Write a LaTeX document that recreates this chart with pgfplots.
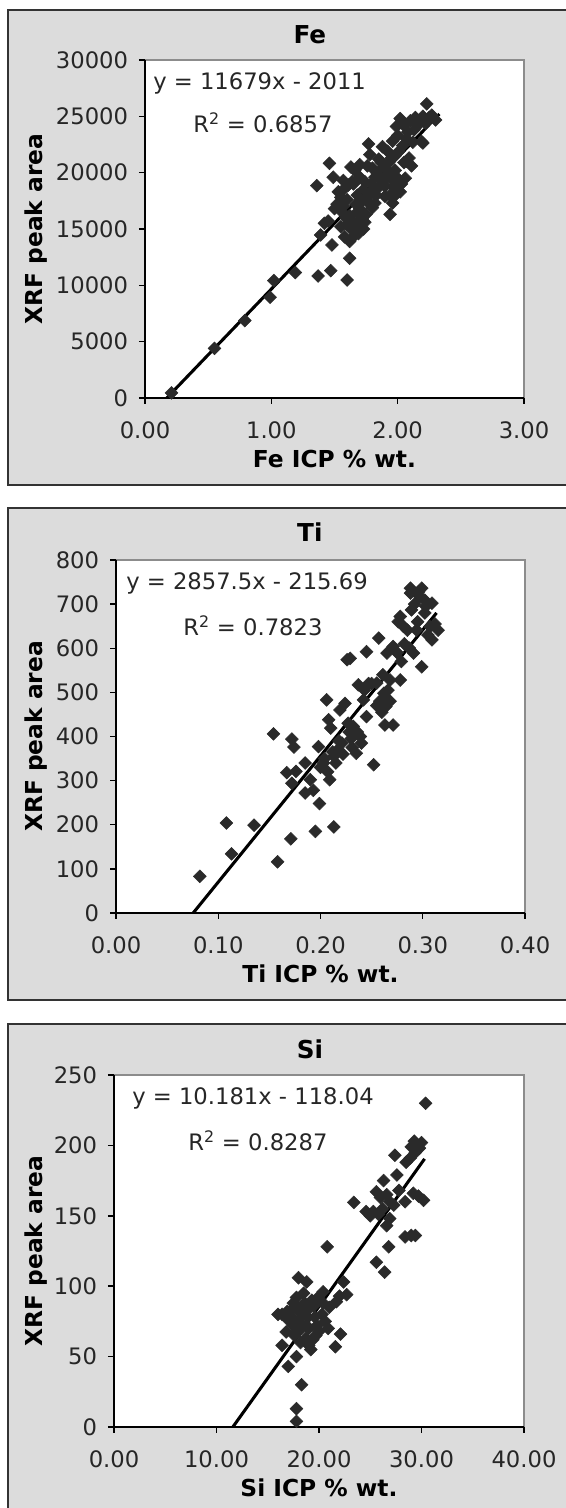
\documentclass[border=0pt]{standalone}
\usepackage{pgfplots}
\pgfplotsset{compat=1.18}
\usepackage{fontspec}
\setmainfont{DejaVu Sans}
\definecolor{boxgray}{RGB}{220,220,220}
\definecolor{markgray}{RGB}{42,42,42}
\pgfplotsset{
  common/.style={
    scale only axis,
    anchor=south west,
    axis background/.style={fill=white, draw=black!45, line width=0.8pt},
    axis x line*=bottom, axis y line*=left,
    axis line style={line width=1.1pt, black},
    every tick/.style={line width=1.1pt, black},
    tick align=outside,
    major tick length=4.5pt,
    minor tick num=0,
    scaled y ticks=false, scaled x ticks=false,
    /pgf/number format/assume math mode=true,
    /pgf/number format/1000 sep={},
    tick label style={font=\fontsize{17}{20}\selectfont, text=black!85},
    xticklabel style={/pgf/number format/.cd, fixed, fixed zerofill, precision=2, /tikz/.cd, anchor=center, inner sep=0pt, yshift=-19.5pt},
    yticklabel style={anchor=east, inner sep=0pt, xshift=-8pt},
    title style={font=\bfseries\fontsize{18.5}{21}\selectfont},
    every axis x label/.style={at={(axis description cs:0.5,0)}, anchor=center, yshift=-45.75pt, font=\bfseries\fontsize{17.5}{20}\selectfont},
    clip=true,
  },
  pts/.style={only marks, mark=square*, mark size=3.4pt, mark options={rotate=45, fill=markgray, draw=markgray}},
  fit/.style={no marks, black, line width=2.3pt},
}
\begin{document}
\begin{tikzpicture}[x=0.75pt,y=0.75pt]
\clip (0,0) rectangle (566,1508);
\fill[white] (0,0) rectangle (566,1508);
\filldraw[fill=boxgray, draw=black!80, line width=1.3pt] (8,1023) rectangle (620,1498);
\filldraw[fill=boxgray, draw=black!80, line width=1.3pt] (8,508) rectangle (620,1000);
\filldraw[fill=boxgray, draw=black!80, line width=1.3pt] (8,-20) rectangle (620,484);

% ---------------- Fe ----------------
\begin{axis}[common,
  at={(108.75pt,832.5pt)}, width=284.25pt, height=253.5pt,
  xmin=0, xmax=3, ymin=0, ymax=30000,
  xtick={0,1,2,3}, ytick={0,5000,10000,15000,20000,25000,30000},
  title={Fe}, title style={at={(axis description cs:0.435,1)}, anchor=center, yshift=13pt},
  xlabel={Fe ICP \% wt.}, ylabel={XRF peak area},
  every axis y label/.style={at={(axis description cs:0,0.5)}, xshift=-81.75pt, rotate=90, anchor=center, font=\bfseries\fontsize{17.5}{20}\selectfont},
]
\addplot[pts] table {
x y
0.21 450
0.55 4400
0.79 6870
0.99 8940
1.02 10420
1.19 11130
1.37 10830
1.47 11300
1.60 10470
1.62 12400
1.48 13580
1.39 14470
1.36 18850
1.46 20830
1.49 19590
2.23 26100
2.30 24680
2.19 22750
1.77 22550
1.42 15500
1.45 15700
1.50 16800
1.52 17200
1.55 17800
1.53 18300
1.58 18600
1.56 16500
1.60 17600
1.62 16200
1.65 15600
1.63 15000
1.67 14800
1.70 15300
1.73 15000
1.72 15900
1.68 16500
1.75 16300
1.58 14300
1.62 13900
1.55 15200
1.60 15400
1.65 19000
1.70 19600
1.66 20200
1.63 20500
1.70 20700
1.76 20600
1.80 20400
1.74 19200
1.78 18200
1.72 17500
1.82 17300
1.80 16900
1.85 18700
1.88 19200
1.90 18800
1.92 19800
1.95 19400
1.98 20200
1.94 18000
1.94 16300
2.02 18300
2.05 20900
2.07 21000
1.98 21500
1.88 22300
1.78 21600
1.85 21200
1.92 21900
1.96 22800
2.00 23300
1.99 24100
2.02 24800
2.05 24200
2.08 23600
2.10 24600
2.14 24900
2.18 24700
2.20 25000
2.25 24900
2.27 25100
2.12 22700
2.20 22630
1.84 19900
1.89 20500
1.93 20900
2.00 19500
1.97 18700
1.90 17900
1.83 18000
1.76 17800
1.68 18000
1.61 18900
1.57 19300
1.64 19200
1.57 17000
1.59 16000
1.66 15200
1.69 14600
1.71 16100
1.74 15600
1.78 17200
1.81 18400
1.86 19500
1.91 20300
1.95 21300
2.01 21900
2.04 22400
2.09 21300
2.11 20600
2.06 19500
2.03 19000
1.99 18100
1.96 17300
1.87 20900
1.82 19600
1.79 19000
1.73 18500
1.67 17200
2.16 24200
2.22 24400
2.13 23800
2.07 23000
1.64 14200
1.70 16800
};
\addplot[fit] coordinates {(0.1722,0) (2.33,25201)};
\end{axis}

% ---------------- Ti ----------------
\begin{axis}[common,
  at={(87pt,446.25pt)}, width=306.75pt, height=264.75pt,
  xmin=0, xmax=0.4, ymin=0, ymax=800,
  xtick={0,0.1,0.2,0.3,0.4}, ytick={0,100,...,800},
  title={Ti}, title style={at={(axis description cs:0.474,1)}, anchor=center, yshift=15pt},
  xlabel={Ti ICP \% wt.}, ylabel={XRF peak area},
  every axis y label/.style={at={(axis description cs:0,0.5)}, xshift=-60pt, rotate=90, anchor=center, font=\bfseries\fontsize{17.5}{20}\selectfont},
]
\addplot[pts] table {
x y
0.082 83
0.108 204
0.113 134
0.135 199
0.154 406
0.158 116
0.171 168
0.172 394
0.174 376
0.167 318
0.176 321
0.172 294
0.185 340
0.190 302
0.185 272
0.193 278
0.199 248
0.195 185
0.213 195
0.198 377
0.206 483
0.208 438
0.210 419
0.203 340
0.209 302
0.207 320
0.217 370
0.213 355
0.221 385
0.219 460
0.224 475
0.226 574
0.229 577
0.237 517
0.245 592
0.242 483
0.232 423
0.239 400
0.235 362
0.228 410
0.245 445
0.252 336
0.257 623
0.255 521
0.262 498
0.264 468
0.263 426
0.271 426
0.265 589
0.271 604
0.268 528
0.278 528
0.279 570
0.278 672
0.289 687
0.291 589
0.299 558
0.288 736
0.299 736
0.302 709
0.309 702
0.297 717
0.285 641
0.294 641
0.307 649
0.315 641
0.309 619
0.258 480
0.266 505
0.260 455
0.275 590
0.282 610
0.302 680
0.295 660
0.240 385
0.230 395
0.222 360
0.215 340
0.200 330
0.243 505
0.250 520
0.261 540
0.288 725
0.296 728
0.303 695
0.292 700
0.305 630
0.312 655
0.268 480
0.263 490
0.255 470
0.247 520
0.236 410
0.231 375
0.227 430
0.218 390
0.212 365
0.204 350
0.281 650
0.276 660
0.287 600
};
\addplot[fit] coordinates {(0.07548,0) (0.3135,680.1)};
\end{axis}

% ---------------- Si ----------------
\begin{axis}[common,
  at={(85.5pt,60.75pt)}, width=307.5pt, height=264pt,
  xmin=0, xmax=40, ymin=0, ymax=250,
  xtick={0,10,20,30,40}, ytick={0,50,100,150,200,250},
  title={Si}, title style={at={(axis description cs:0.478,1)}, anchor=center, yshift=13pt},
  xlabel={Si ICP \% wt.}, ylabel={XRF peak area},
  every axis y label/.style={at={(axis description cs:0,0.5)}, xshift=-58.5pt, rotate=90, anchor=center, font=\bfseries\fontsize{17.5}{20}\selectfont},
]
\addplot[pts] table {
x y
30.4 229.9
29.6 200
30.0 202
29.3 203
29.0 199
27.4 193
28.5 188
28.9 191
27.6 179
26.3 175
25.6 167
26.6 165
26.0 163
23.4 159.5
24.6 153
25.3 153
25.8 151
27.3 157.6
26.9 148
26.6 143
29.2 166
29.7 164
30.2 161
28.4 160
28.4 135
29.0 136
29.4 136
26.8 128
25.6 117
26.4 110
20.8 128
18.0 106
18.8 103
22.4 103
22.7 94
21.7 89
22.0 93
20.4 96
21.0 85
16.4 80
16.8 67.5
16.4 58
21.6 57
22.1 66
17.8 50
17.0 43
18.3 30
17.8 13
17.8 4
19.2 55
19.0 58
17.5 88
17.8 92
18.2 85
18.5 80
18.0 75
17.3 78
16.9 82
19.5 86
19.0 70
18.3 70
17.6 65
18.7 63
19.8 72
20.3 80
20.0 68
19.4 62
18.5 95
19.9 92
20.6 75
17.5 72
16.0 80
18.9 78
20.9 70
18.0 82
18.6 88
19.3 90
19.6 78
17.0 76
17.9 68
18.8 72
19.7 65
20.4 88
18.2 60
19.0 84
17.4 84
29.8 198
29.4 195
25.0 150
26.2 155
26.9 160
27.8 168
};
\addplot[fit] coordinates {(11.594,0) (30.3,190.44)};
\end{axis}

% equations
\begin{scope}[every node/.style={font=\fontsize{17}{20}\selectfont, text=black!85, inner sep=0pt, anchor=west}]
\node at (153,1425) {y = 11679x - 2011};
\node at (193,1385) {R\textsuperscript{2} = 0.6857};
\node at (126,925) {y = 2857.5x - 215.69};
\node at (183,882) {R\textsuperscript{2} = 0.7823};
\node at (132,410) {y = 10.181x - 118.04};
\node at (188,367) {R\textsuperscript{2} = 0.8287};
\end{scope}
\end{tikzpicture}
\end{document}
